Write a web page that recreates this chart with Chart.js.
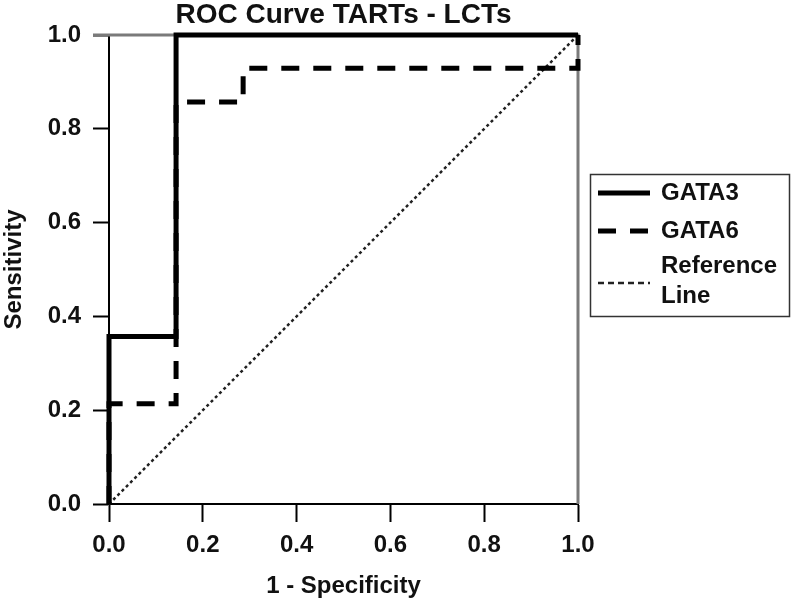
<!DOCTYPE html>
<html>
<head>
<meta charset="utf-8">
<script src="https://cdn.jsdelivr.net/npm/chart.js@4/dist/chart.umd.min.js"></script>
<style>
  html, body { margin: 0; padding: 0; background: #fff; }
  #wrap { width: 793px; height: 602px; position: relative; }
</style>
</head>
<body>
<div id="wrap"><canvas id="roc"></canvas></div>
<script>
(function () {
  'use strict';

  // ── Data ───────────────────────────────────────────────────────
  const titleText = 'ROC Curve TARTs - LCTs';
  const xTitle = '1 - Specificity';
  const yTitle = 'Sensitivity';
  const seriesNames = ['GATA3', 'GATA6', ['Reference', 'Line']];

  const fprGata3 = [0, 0, 0.143, 0.143, 1];
  const tprGata3 = [0, 0.357, 0.357, 1, 1];
  const fprGata6 = [0, 0, 0.143, 0.143, 0.286, 0.286, 1, 1];
  const tprGata6 = [0, 0.214, 0.214, 0.857, 0.857, 0.929, 0.929, 1];
  const fprRef = [0, 1];
  const tprRef = [0, 1];
  const tickValues = [0, 0.2, 0.4, 0.6, 0.8, 1.0];

  // ── Helpers ────────────────────────────────────────────────────
  const FONT = '"Liberation Sans", Arial, Helvetica, sans-serif';
  const pts = (xs, ys) => xs.map((x, i) => ({ x, y: ys[i] }));

  // title centred over the plot, gray frame on top and right
  const framePlugin = {
    id: 'frame',
    beforeDatasetsDraw(chart) {
      const a = chart.chartArea;
      const ctx = chart.ctx;
      ctx.save();
      ctx.strokeStyle = '#7a7a7a';
      ctx.lineWidth = 3;
      ctx.beginPath();
      ctx.moveTo(a.left - 16, a.top);
      ctx.lineTo(a.right, a.top);
      ctx.lineTo(a.right, a.bottom);
      ctx.stroke();

      ctx.fillStyle = '#111';
      ctx.font = 'bold 28px ' + FONT;
      ctx.textAlign = 'center';
      ctx.textBaseline = 'alphabetic';
      ctx.fillText(titleText, (a.left + a.right) / 2, 23);
      ctx.restore();
    },
  };

  // boxed legend to the right of the plot
  const legendPlugin = {
    id: 'boxLegend',
    afterDraw(chart) {
      const a = chart.chartArea;
      const ctx = chart.ctx;
      const x0 = a.right + 12, y0 = 174, w = 199, h = 142;
      ctx.save();
      ctx.strokeStyle = '#333';
      ctx.lineWidth = 1.5;
      ctx.strokeRect(x0 + 0.5, y0 + 0.5, w, h);

      const rows = [
        { ds: 0, lineY: 193, textY: [193] },
        { ds: 1, lineY: 231, textY: [231] },
        { ds: 2, lineY: 283, textY: [266, 296] },
      ];
      ctx.font = 'bold 24px ' + FONT;
      ctx.textBaseline = 'middle';
      ctx.textAlign = 'left';
      rows.forEach(r => {
        const ds = chart.data.datasets[r.ds];
        ctx.strokeStyle = ds.borderColor;
        ctx.lineWidth = ds.borderWidth;
        ctx.setLineDash(r.ds === 2 ? [6, 4] : (ds.borderDash || []));
        ctx.beginPath();
        ctx.moveTo(x0 + 8, r.lineY);
        ctx.lineTo(x0 + 60, r.lineY);
        ctx.stroke();
        ctx.setLineDash([]);
        ctx.fillStyle = '#111';
        const lines = [].concat(seriesNames[r.ds]);
        lines.forEach((t, i) => ctx.fillText(t, x0 + 71, r.textY[i]));
      });
      ctx.restore();
    },
  };

  // ── Chart ──────────────────────────────────────────────────────
  const axisFont = { family: FONT, size: 24, weight: 'bold' };

  new Chart(document.getElementById('roc'), {
    type: 'scatter',
    data: {
      datasets: [
        {
          label: 'GATA3',
          data: pts(fprGata3, tprGata3),
          showLine: true,
          borderColor: '#000',
          borderWidth: 5,
          pointRadius: 0,
          clip: 8,
          order: 1,
        },
        {
          label: 'GATA6',
          data: pts(fprGata6, tprGata6),
          showLine: true,
          borderColor: '#000',
          borderWidth: 5,
          borderDash: [18, 14],
          pointRadius: 0,
          clip: 8,
          order: 2,
        },
        {
          label: 'Reference Line',
          data: pts(fprRef, tprRef),
          showLine: true,
          borderColor: '#222',
          borderWidth: 2.5,
          borderDash: [3, 3],
          pointRadius: 0,
          clip: 8,
          order: 3,
        },
      ],
    },
    options: {
      responsive: true,
      maintainAspectRatio: false,
      animation: false,
      events: [],
      layout: { padding: { left: 0, right: 215, top: 35, bottom: 0 } },
      plugins: {
        legend: { display: false },
        tooltip: { enabled: false },
        title: { display: false },
      },
      scales: {
        x: {
          type: 'linear',
          min: 0,
          max: 1,
          afterBuildTicks: s => { s.ticks = tickValues.map(v => ({ value: v })); },
          afterFit: s => { s.height = 98; },
          ticks: {
            color: '#111',
            font: axisFont,
            padding: 9,
            maxRotation: 0,
            callback: v => Number(v).toFixed(1),
          },
          grid: {
            drawOnChartArea: false,
            drawTicks: true,
            tickLength: 18,
            tickWidth: 2,
            tickColor: '#000',
          },
          border: { display: true, color: '#000', width: 2 },
          title: {
            display: true,
            text: xTitle,
            color: '#111',
            font: axisFont,
            padding: { top: 0, bottom: 1 },
          },
        },
        y: {
          type: 'linear',
          min: 0,
          max: 1,
          afterBuildTicks: s => { s.ticks = tickValues.map(v => ({ value: v })); },
          afterFit: s => { s.width = 109; },
          ticks: {
            color: '#111',
            font: axisFont,
            padding: 12,
            callback: v => Number(v).toFixed(1),
          },
          grid: {
            drawOnChartArea: false,
            drawTicks: true,
            tickLength: 16,
            tickWidth: 2,
            tickColor: '#000',
          },
          border: { display: true, color: '#000', width: 2 },
          title: {
            display: true,
            text: yTitle,
            color: '#111',
            font: axisFont,
            padding: { top: 0, bottom: 0 },
          },
        },
      },
    },
    plugins: [framePlugin, legendPlugin],
  });
})();
</script>
</body>
</html>
